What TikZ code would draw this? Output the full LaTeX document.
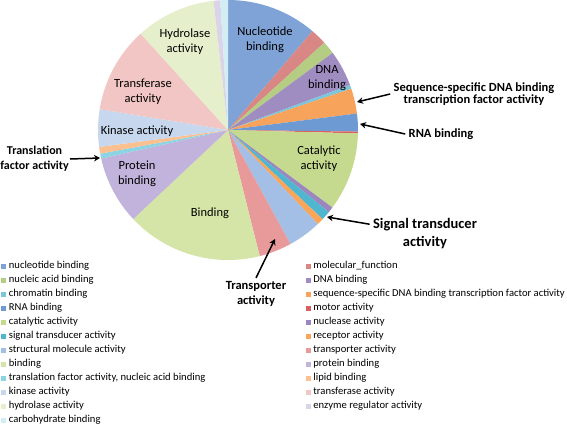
\documentclass[tikz,border=0pt]{standalone}
\usepackage{fontspec}
\setmainfont{Carlito}
\usetikzlibrary{arrows.meta,positioning}

\definecolor{nucbind}{HTML}{7FA3D6}
\definecolor{molfunc}{HTML}{D98785}
\definecolor{nucacid}{HTML}{B5CC83}
\definecolor{dnabind}{HTML}{9F8CC0}
\definecolor{chromat}{HTML}{7BC6DA}
\definecolor{seqspec}{HTML}{F7A35C}
\definecolor{rnabind}{HTML}{6E9AD3}
\definecolor{motor}{HTML}{D9605E}
\definecolor{catal}{HTML}{C5DA8F}
\definecolor{nucle}{HTML}{9B86BD}
\definecolor{signal}{HTML}{4EB7CF}
\definecolor{recept}{HTML}{F9A65A}
\definecolor{struct}{HTML}{A3BFE6}
\definecolor{transp}{HTML}{E8999A}
\definecolor{bindg}{HTML}{D5E5A7}
\definecolor{protbind}{HTML}{C2B3DC}
\definecolor{transl}{HTML}{8CD3E3}
\definecolor{lipid}{HTML}{FBC08F}
\definecolor{kinase}{HTML}{C7D7EE}
\definecolor{transf}{HTML}{F1C6C4}
\definecolor{hydrol}{HTML}{E6EFCB}
\definecolor{enzreg}{HTML}{DBD3E8}
\definecolor{carbo}{HTML}{D3EDF4}

\begin{document}
\begin{tikzpicture}[
    x=1pt, y=-1pt,
    slicetext/.style={align=center,font=\fontsize{12.5}{15}\selectfont},
    callout/.style={align=center,font=\fontsize{12.5}{15}\selectfont\bfseries},
    bigcallout/.style={align=center,font=\fontsize{14.5}{18}\selectfont\bfseries},
    pointer/.style={-{Stealth[length=6pt,width=6.5pt]},line width=1.5pt},
    legkey/.style={minimum size=5pt,inner sep=0pt},
    legtext/.style={font=\fontsize{10.6}{11}\selectfont,inner sep=0pt}
]
    \useasboundingbox (0,0) rectangle (567,425);

    % Pie centre; slices run clockwise from 12 o'clock
    \coordinate (O) at (228,130);
    \fill[nucbind]  (O) -- ++(-90:130)   arc[start angle=-90,   end angle=-49.5, radius=130] -- cycle;
    \fill[molfunc]  (O) -- ++(-49.5:130) arc[start angle=-49.5, end angle=-42.2, radius=130] -- cycle;
    \fill[nucacid]  (O) -- ++(-42.2:130) arc[start angle=-42.2, end angle=-36.4, radius=130] -- cycle;
    \fill[dnabind]  (O) -- ++(-36.4:130) arc[start angle=-36.4, end angle=-20.2, radius=130] -- cycle;
    \fill[chromat]  (O) -- ++(-20.2:130) arc[start angle=-20.2, end angle=-18.5, radius=130] -- cycle;
    \fill[seqspec]  (O) -- ++(-18.5:130) arc[start angle=-18.5, end angle=-7.3,  radius=130] -- cycle;
    \fill[rnabind]  (O) -- ++(-7.3:130)  arc[start angle=-7.3,  end angle=0.7,   radius=130] -- cycle;
    \fill[motor]    (O) -- ++(0.7:130)   arc[start angle=0.7,   end angle=1.5,   radius=130] -- cycle;
    \fill[catal]    (O) -- ++(1.5:130)   arc[start angle=1.5,   end angle=36.6,  radius=130] -- cycle;
    \fill[nucle]    (O) -- ++(36.6:130)  arc[start angle=36.6,  end angle=39.2,  radius=130] -- cycle;
    \fill[signal]   (O) -- ++(39.2:130)  arc[start angle=39.2,  end angle=43.3,  radius=130] -- cycle;
    \fill[recept]   (O) -- ++(43.3:130)  arc[start angle=43.3,  end angle=46.3,  radius=130] -- cycle;
    \fill[struct]   (O) -- ++(46.3:130)  arc[start angle=46.3,  end angle=61.3,  radius=130] -- cycle;
    \fill[transp]   (O) -- ++(61.3:130)  arc[start angle=61.3,  end angle=75.9,  radius=130] -- cycle;
    \fill[bindg]    (O) -- ++(75.9:130)  arc[start angle=75.9,  end angle=136.8, radius=130] -- cycle;
    \fill[protbind] (O) -- ++(136.8:130) arc[start angle=136.8, end angle=167.3, radius=130] -- cycle;
    \fill[transl]   (O) -- ++(167.3:130) arc[start angle=167.3, end angle=169.5, radius=130] -- cycle;
    \fill[lipid]    (O) -- ++(169.5:130) arc[start angle=169.5, end angle=172.5, radius=130] -- cycle;
    \fill[kinase]   (O) -- ++(172.5:130) arc[start angle=172.5, end angle=189.2, radius=130] -- cycle;
    \fill[transf]   (O) -- ++(189.2:130) arc[start angle=189.2, end angle=227.8, radius=130] -- cycle;
    \fill[hydrol]   (O) -- ++(227.8:130) arc[start angle=227.8, end angle=263.6, radius=130] -- cycle;
    \fill[enzreg]   (O) -- ++(263.6:130) arc[start angle=263.6, end angle=266.6, radius=130] -- cycle;
    \fill[carbo]    (O) -- ++(266.6:130) arc[start angle=266.6, end angle=270,   radius=130] -- cycle;

    % Labels inside the slices
    \node[slicetext] (nuc)  at (265,40)  {Nucleotide\\binding};
    \node[slicetext] (dna)  at (327,78)  {DNA\\binding};
    \node[slicetext] (cat)  at (319,159) {Catalytic\\activity};
    \node[slicetext] (bin)  at (210,213) {Binding};
    \node[slicetext] (prot) at (137,174) {Protein\\binding};
    \node[slicetext] (kin)  at (137,131) {Kinase activity};
    \node[slicetext] (trf)  at (143,92)  {Transferase\\activity};
    \node[slicetext] (hyd)  at (185,42)  {Hydrolase\\activity};

    % Call-outs for the thin slices
    \node[callout]    (seqlbl) at (474,94)  {Sequence-specific DNA binding\\[-2.5pt]transcription factor activity};
    \node[callout]    (rnalbl) at (441,134) {RNA binding};
    \node[bigcallout] (siglbl) at (425,234) {Signal transducer\\activity};
    \node[callout]    (trlbl)  at (256,294) {Transporter\\activity};
    \node[callout,font=\fontsize{12}{15}\selectfont\bfseries,inner sep=1pt,anchor=east]
                      (tflbl)  at (70,159)  {Translation\\factor activity};

    \coordinate (seqtip) at (357,102);
    \coordinate (rnatip) at (360,124);
    \coordinate (sigtip) at (327,217);
    \coordinate (trtip)  at (275,239);
    \coordinate (tftip)  at (100,158);

    \draw[pointer] (seqlbl.west) -- (seqtip);
    \draw[pointer] (rnalbl.west) -- (rnatip);
    \draw[pointer] (siglbl.170)  -- (sigtip);
    \draw[pointer] (trlbl.north) -- (trtip);
    \draw[pointer] (tflbl.east)  -- (tftip);

    % Legend, left column
    \node[legkey,fill=nucbind] (k1)  at (3.5,266) {};
    \node[legtext,right=2.5pt of k1]  (l1)  {nucleotide binding};
    \node[legkey,fill=nucacid] (k3)  at (3.5,280) {};
    \node[legtext,right=2.5pt of k3]  (l3)  {nucleic acid binding};
    \node[legkey,fill=chromat] (k5)  at (3.5,294) {};
    \node[legtext,right=2.5pt of k5]  (l5)  {chromatin binding};
    \node[legkey,fill=rnabind] (k7)  at (3.5,308) {};
    \node[legtext,right=2.5pt of k7]  (l7)  {RNA binding};
    \node[legkey,fill=catal]   (k9)  at (3.5,322) {};
    \node[legtext,right=2.5pt of k9]  (l9)  {catalytic activity};
    \node[legkey,fill=signal]  (k11) at (3.5,336) {};
    \node[legtext,right=2.5pt of k11] (l11) {signal transducer activity};
    \node[legkey,fill=struct]  (k13) at (3.5,350) {};
    \node[legtext,right=2.5pt of k13] (l13) {structural molecule activity};
    \node[legkey,fill=bindg]   (k15) at (3.5,364) {};
    \node[legtext,right=2.5pt of k15] (l15) {binding};
    \node[legkey,fill=transl]  (k17) at (3.5,378) {};
    \node[legtext,right=2.5pt of k17] (l17) {translation factor activity, nucleic acid binding};
    \node[legkey,fill=kinase]  (k19) at (3.5,392) {};
    \node[legtext,right=2.5pt of k19] (l19) {kinase activity};
    \node[legkey,fill=hydrol]  (k21) at (3.5,406) {};
    \node[legtext,right=2.5pt of k21] (l21) {hydrolase activity};
    \node[legkey,fill=carbo]   (k23) at (3.5,420) {};
    \node[legtext,right=2.5pt of k23] (l23) {carbohydrate binding};

    % Legend, right column
    \node[legkey,fill=molfunc]  (k2)  at (308,266) {};
    \node[legtext,right=2.5pt of k2]  (l2)  {molecular\_function};
    \node[legkey,fill=dnabind]  (k4)  at (308,280) {};
    \node[legtext,right=2.5pt of k4]  (l4)  {DNA binding};
    \node[legkey,fill=seqspec]  (k6)  at (308,294) {};
    \node[legtext,right=2.5pt of k6]  (l6)  {sequence-specific DNA binding transcription factor activity};
    \node[legkey,fill=motor]    (k8)  at (308,308) {};
    \node[legtext,right=2.5pt of k8]  (l8)  {motor activity};
    \node[legkey,fill=nucle]    (k10) at (308,322) {};
    \node[legtext,right=2.5pt of k10] (l10) {nuclease activity};
    \node[legkey,fill=recept]   (k12) at (308,336) {};
    \node[legtext,right=2.5pt of k12] (l12) {receptor activity};
    \node[legkey,fill=transp]   (k14) at (308,350) {};
    \node[legtext,right=2.5pt of k14] (l14) {transporter activity};
    \node[legkey,fill=protbind] (k16) at (308,364) {};
    \node[legtext,right=2.5pt of k16] (l16) {protein binding};
    \node[legkey,fill=lipid]    (k18) at (308,378) {};
    \node[legtext,right=2.5pt of k18] (l18) {lipid binding};
    \node[legkey,fill=transf]   (k20) at (308,392) {};
    \node[legtext,right=2.5pt of k20] (l20) {transferase activity};
    \node[legkey,fill=enzreg]   (k22) at (308,406) {};
    \node[legtext,right=2.5pt of k22] (l22) {enzyme regulator activity};
\end{tikzpicture}
\end{document}
